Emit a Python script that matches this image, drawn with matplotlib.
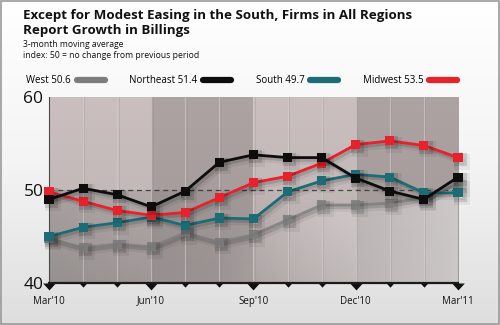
"""
Architecture billings index by region, 3-month moving average, Mar'10 - Mar'11.
"""
import numpy as np
import matplotlib
matplotlib.use("Agg")
import matplotlib.pyplot as plt
import matplotlib.patheffects as pe
from matplotlib.lines import Line2D
from matplotlib.path import Path
from matplotlib.patches import Rectangle
from matplotlib.colors import LinearSegmentedColormap

MONTHS = ["Mar'10", "Apr'10", "May'10", "Jun'10", "Jul'10", "Aug'10", "Sep'10",
          "Oct'10", "Nov'10", "Dec'10", "Jan'11", "Feb'11", "Mar'11"]
QUARTER_LABELS = ["Mar'10", "Jun'10", "Sep'10", "Dec'10", "Mar'11"]

WEST      = [44.8, 43.8, 44.2, 43.9, 45.4, 44.4, 45.2, 46.8, 48.4, 48.4, 48.6, 49.2, 50.6]
NORTHEAST = [49.0, 50.2, 49.5, 48.2, 49.9, 53.0, 53.8, 53.5, 53.5, 51.3, 49.9, 49.0, 51.4]
SOUTH     = [45.0, 46.0, 46.5, 47.1, 46.2, 47.0, 46.9, 49.8, 51.0, 51.7, 51.4, 49.7, 49.7]
MIDWEST   = [49.8, 48.8, 47.8, 47.3, 47.6, 49.2, 50.8, 51.5, 52.9, 54.9, 55.3, 54.8, 53.5]

SERIES = [
    ("West",      WEST,      "#7c7c7c"),
    ("Northeast", NORTHEAST, "#0d0d0d"),
    ("South",     SOUTH,     "#1c6c76"),
    ("Midwest",   MIDWEST,   "#e8222b"),
]
DRAW_ORDER = ["West", "South", "Midwest", "Northeast"]

TEXT = "#111111"
FONT = "Open Sans"

fig = plt.figure(figsize=(5.0, 3.25), dpi=100)

# ── page background: soft vertical gradient + thin frame ───────────────────
bg = fig.add_axes([0, 0, 1, 1], zorder=-10)
bg_cmap = LinearSegmentedColormap.from_list("bg", ["#ffffff", "#f4f4f4", "#dedede"])
bg.imshow(np.linspace(0, 1, 256).reshape(-1, 1), cmap=bg_cmap, aspect="auto",
          extent=(0, 1, 0, 1))
bg.add_patch(Rectangle((0.002, 0.003), 0.996, 0.994, fill=False,
                       edgecolor="#9a9a9a", linewidth=1.2))
bg.set_xlim(0, 1)
bg.set_ylim(0, 1)
bg.axis("off")

# ── plot area ──────────────────────────────────────────────────────────────
ax = fig.add_axes([0.098, 0.129, 0.818, 0.572])
x = np.arange(len(MONTHS))
ax.set_xlim(0, len(MONTHS) - 1)
ax.set_ylim(40, 60)

# alternating quarter bands, each with a light-to-dark vertical gradient
band_light = LinearSegmentedColormap.from_list("bl", ["#aaa2a1", "#c3b9b8", "#cabfbe"])
band_dark = LinearSegmentedColormap.from_list("bd", ["#a19998", "#a69d9c", "#ada3a2"])
grad = np.linspace(0, 1, 256).reshape(-1, 1)
for q in range(4):
    cmap = band_light if q % 2 == 0 else band_dark
    ax.imshow(grad, cmap=cmap, aspect="auto", origin="lower",
              extent=(3 * q, 3 * q + 3, 40, 60), zorder=0)

# lower-left shadowing under the 50 line, fading to the right
shade = np.zeros((2, 256, 4))
shade[..., :3] = 0.35
shade[..., 3] = np.clip(np.linspace(0.25, -0.15, 256), 0, None)
im = ax.imshow(shade, aspect="auto", extent=(0, 12, 40, 50), zorder=0.5)
clip = ax.fill_between(x, 40, 50, color="none", zorder=0)
im.set_clip_path(clip.get_paths()[0], transform=ax.transData)

# lower-right highlight under the West line
glow = np.zeros((2, 256, 4))
glow[..., :3] = 1.0
glow[..., 3] = np.clip(np.linspace(-0.3, 0.45, 256), 0, None)
im2 = ax.imshow(glow, aspect="auto", extent=(0, 12, 40, 60), zorder=0.6)
clip2 = ax.fill_between(x, 40, WEST, color="none", zorder=0)
im2.set_clip_path(clip2.get_paths()[0], transform=ax.transData)

# faint monthly dividers
for xi in x[1:-1]:
    ax.axvline(xi, color="#d6cfcf", linewidth=0.8, alpha=0.6, zorder=0.8)
    ax.axvline(xi + 0.04, color="#8f8686", linewidth=0.5, alpha=0.35, zorder=0.8)

ax.axhline(50, color="#222222", linewidth=0.9, dashes=(4, 3), alpha=0.75, zorder=1)

# ── series ─────────────────────────────────────────────────────────────────
shadow = [
    pe.SimpleLineShadow(offset=(2.5, -2.5), shadow_color="black", alpha=0.06, linewidth=5),
    pe.SimpleLineShadow(offset=(1.5, -1.5), shadow_color="black", alpha=0.13, linewidth=3),
    pe.Normal(),
]
lookup = {name: (vals, color) for name, vals, color in SERIES}
for z, name in enumerate(DRAW_ORDER):
    vals, color = lookup[name]
    ax.plot(x, vals, color=color, linewidth=2.0, marker="s", markersize=6.5,
            markeredgewidth=0, clip_on=False, zorder=3 + z, path_effects=shadow,
            alpha=0.8 if name == "West" else 1.0)

# ── axes styling ───────────────────────────────────────────────────────────
for side in ("top", "right"):
    ax.spines[side].set_visible(False)
ax.spines["left"].set_color("#4a4a4a")
ax.spines["left"].set_linewidth(0.8)
ax.spines["bottom"].set_color("#1a1a1a")
ax.spines["bottom"].set_linewidth(1.6)
ax.spines["bottom"].set_zorder(10)

ax.set_yticks([40, 50, 60])
ax.tick_params(axis="y", length=0, pad=4, labelsize=12.5, labelcolor=TEXT)
for lab in ax.get_yticklabels():
    lab.set_fontfamily(FONT)

# downward triangle ticks hanging from the baseline
tri = Path([(-1, 0), (1, 0), (0, -1.1), (-1, 0)],
           [Path.MOVETO, Path.LINETO, Path.LINETO, Path.CLOSEPOLY])
ax.set_xticks(x[::3])
ax.set_xticklabels(QUARTER_LABELS, fontsize=7, fontfamily=FONT, color=TEXT)
ax.set_xticks(x, minor=True)
ax.tick_params(axis="x", which="major", pad=9, length=0)
for tick in ax.xaxis.get_major_ticks():
    tick.tick1line.set_marker(tri)
    tick.tick1line.set_markersize(10)
    tick.tick1line.set_markerfacecolor("#111111")
    tick.tick1line.set_markeredgewidth(0)
for tick in ax.xaxis.get_minor_ticks():
    tick.tick1line.set_marker(tri)
    tick.tick1line.set_markersize(6)
    tick.tick1line.set_markerfacecolor("#111111")
    tick.tick1line.set_markeredgewidth(0)

# ── title, notes, legend ───────────────────────────────────────────────────
fig.text(0.046, 0.972, "Except for Modest Easing in the South, Firms in All Regions\n"
         "Report Growth in Billings", ha="left", va="top", fontsize=9.6,
         fontweight="bold", fontfamily=FONT, color=TEXT, linespacing=1.15)
fig.text(0.046, 0.878, "3-month moving average", ha="left", va="top",
         fontsize=6.2, fontfamily=FONT, color=TEXT)
fig.text(0.046, 0.843, "index: 50 = no change from previous period", ha="left",
         va="top", fontsize=6.2, fontfamily=FONT, color=TEXT)

handles = [Line2D([], [], color=color, linewidth=4.5, solid_capstyle="round")
           for _, _, color in SERIES]
labels = [f"{name} {vals[-1]}" for name, vals, _ in SERIES]
fig.legend(handles, labels, loc="upper left", bbox_to_anchor=(0.035, 0.795),
           ncol=4, markerfirst=False, frameon=False, handlelength=2.9,
           handletextpad=0.6, columnspacing=2.5,
           prop={"family": FONT, "size": 7})

fig.savefig("out.png", dpi=100)
